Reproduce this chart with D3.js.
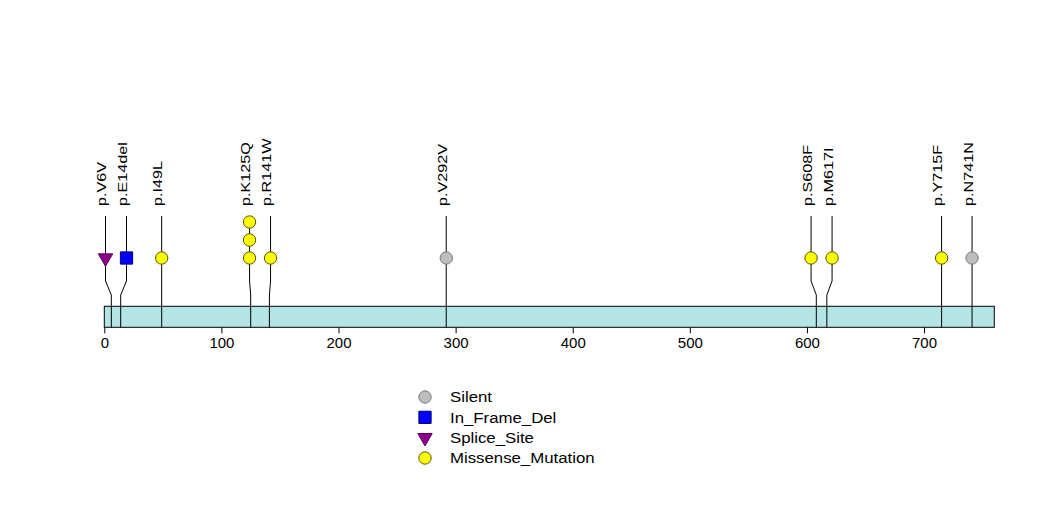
<!DOCTYPE html>
<html>
<head>
<meta charset="utf-8">
<script src="https://cdn.jsdelivr.net/npm/d3@7"></script>
<style>
  html, body { margin: 0; padding: 0; background: #fff; }
  svg { display: block; }
  text { font-family: "Liberation Sans", Arial, Helvetica, sans-serif; fill: #000; }
</style>
</head>
<body>
<svg id="chart" width="1047" height="524"></svg>
<script>
// ---- data ----
const proteinLength = 760;
const tickValues = [0, 100, 200, 300, 400, 500, 600, 700];
const mutPositions = [6, 14, 49, 125, 141, 292, 608, 617, 715, 741];
const mutLabels = ["p.V6V", "p.E14del", "p.I49L", "p.K125Q", "p.R141W", "p.V292V", "p.S608F", "p.M617I", "p.Y715F", "p.N741N"];
const mutTypes = ["Splice_Site", "In_Frame_Del", "Missense_Mutation", "Missense_Mutation", "Missense_Mutation", "Silent", "Missense_Mutation", "Missense_Mutation", "Missense_Mutation", "Silent"];
const mutCounts = [1, 1, 1, 3, 1, 1, 1, 1, 1, 1];
const legendTypes = ["Silent", "In_Frame_Del", "Splice_Site", "Missense_Mutation"];
const typeColors = ["#bebebe", "#0000ff", "#8b008b", "#ffff00"];
const typeStrokes = ["#777777", "#000080", "#5a005a", "#555500"];

// ---- layout ----
const svg = d3.select("#chart");
const x = d3.scaleLinear().domain([0, proteinLength]).range([104.3, 994.3]);
const stackY = d3.scaleLinear().domain([1, 3]).range([258, 222]);
const color = d3.scaleOrdinal().domain(legendTypes).range(typeColors);
const strokeC = d3.scaleOrdinal().domain(legendTypes).range(typeStrokes);
const barTop = 306.3, barBottom = 327.3;
const labelBase = 206, lineTop = 216, bendTop = 281, bendBottom = 295;

const muts = mutPositions.map((p, i) => ({
  pos: p, label: mutLabels[i], type: mutTypes[i], count: mutCounts[i], ax: x(p)
}));

// spread overlapping markers apart (min gap in px)
const minGap = 21;
function spread(items) {
  let clusters = items.map(d => ({ items: [d], center: d.ax }));
  let changed = true;
  while (changed) {
    changed = false;
    for (let i = 0; i < clusters.length - 1; i++) {
      const a = clusters[i], b = clusters[i + 1];
      const aRight = a.center + (a.items.length - 1) * minGap / 2;
      const bLeft = b.center - (b.items.length - 1) * minGap / 2;
      if (bLeft - aRight < minGap) {
        const its = a.items.concat(b.items);
        clusters.splice(i, 2, { items: its, center: d3.mean(its, d => d.ax) });
        changed = true;
        break;
      }
    }
  }
  clusters.forEach(c => {
    const n = c.items.length;
    c.items.forEach((d, k) => { d.dx = c.center + (k - (n - 1) / 2) * minGap; });
  });
}
spread(muts);

// protein bar
svg.append("rect")
  .attr("x", x(0)).attr("y", barTop)
  .attr("width", x(proteinLength) - x(0)).attr("height", barBottom - barTop)
  .attr("fill", "#b4e4e4").attr("stroke", "#000").attr("stroke-width", 1);

// axis
const axis = d3.axisBottom(x).tickValues(tickValues).tickSize(6).tickPadding(4).tickFormat(d3.format("d"));
const ag = svg.append("g").attr("transform", `translate(0,${barBottom})`).call(axis);
ag.select(".domain").remove();
ag.selectAll("line").attr("stroke", "#000");
ag.selectAll("text").attr("font-size", 15).attr("font-family", "Liberation Sans, Arial, sans-serif").attr("fill", "#000");

// connector lines
const lineGen = d3.line();
svg.append("g").selectAll("path").data(muts).join("path")
  .attr("d", d => lineGen([[d.dx, lineTop], [d.dx, bendTop], [d.ax, bendBottom], [d.ax, barBottom]]))
  .attr("fill", "none").attr("stroke", "#000").attr("stroke-width", 1);

// markers
const sym = {
  "Silent": d3.symbol().type(d3.symbolCircle).size(120),
  "Missense_Mutation": d3.symbol().type(d3.symbolCircle).size(120),
  "In_Frame_Del": d3.symbol().type(d3.symbolSquare).size(150),
  "Splice_Site": d3.symbol().type(d3.symbolTriangle).size(90)
};
const markerData = [];
muts.forEach(d => { for (let k = 1; k <= d.count; k++) markerData.push({ m: d, k }); });
svg.append("g").selectAll("path").data(markerData).join("path")
  .attr("d", d => sym[d.m.type]())
  .attr("transform", d => `translate(${d.m.dx},${stackY(d.k)})` + (d.m.type === "Splice_Site" ? " rotate(180)" : ""))
  .attr("fill", d => color(d.m.type))
  .attr("stroke", d => strokeC(d.m.type)).attr("stroke-width", 1);

// labels
svg.append("g").selectAll("text").data(muts).join("text")
  .attr("transform", d => `translate(${d.dx + 0.5},${labelBase}) rotate(-90) scale(1.35,1)`)
  .attr("font-size", 12)
  .text(d => d.label);

// legend
const lg = svg.append("g");
const legY = d3.scaleLinear().domain([0, 3]).range([397, 458]);
legendTypes.forEach((t, i) => {
  lg.append("path")
    .attr("d", sym[t]())
    .attr("transform", `translate(425,${legY(i)})` + (t === "Splice_Site" ? " rotate(180)" : ""))
    .attr("fill", color(t)).attr("stroke", strokeC(t)).attr("stroke-width", 1);
  lg.append("text")
    .attr("transform", `translate(450,${legY(i)}) scale(1.12,1)`)
    .attr("dy", "0.36em")
    .attr("font-size", 15)
    .text(t);
});
</script>
</body>
</html>
